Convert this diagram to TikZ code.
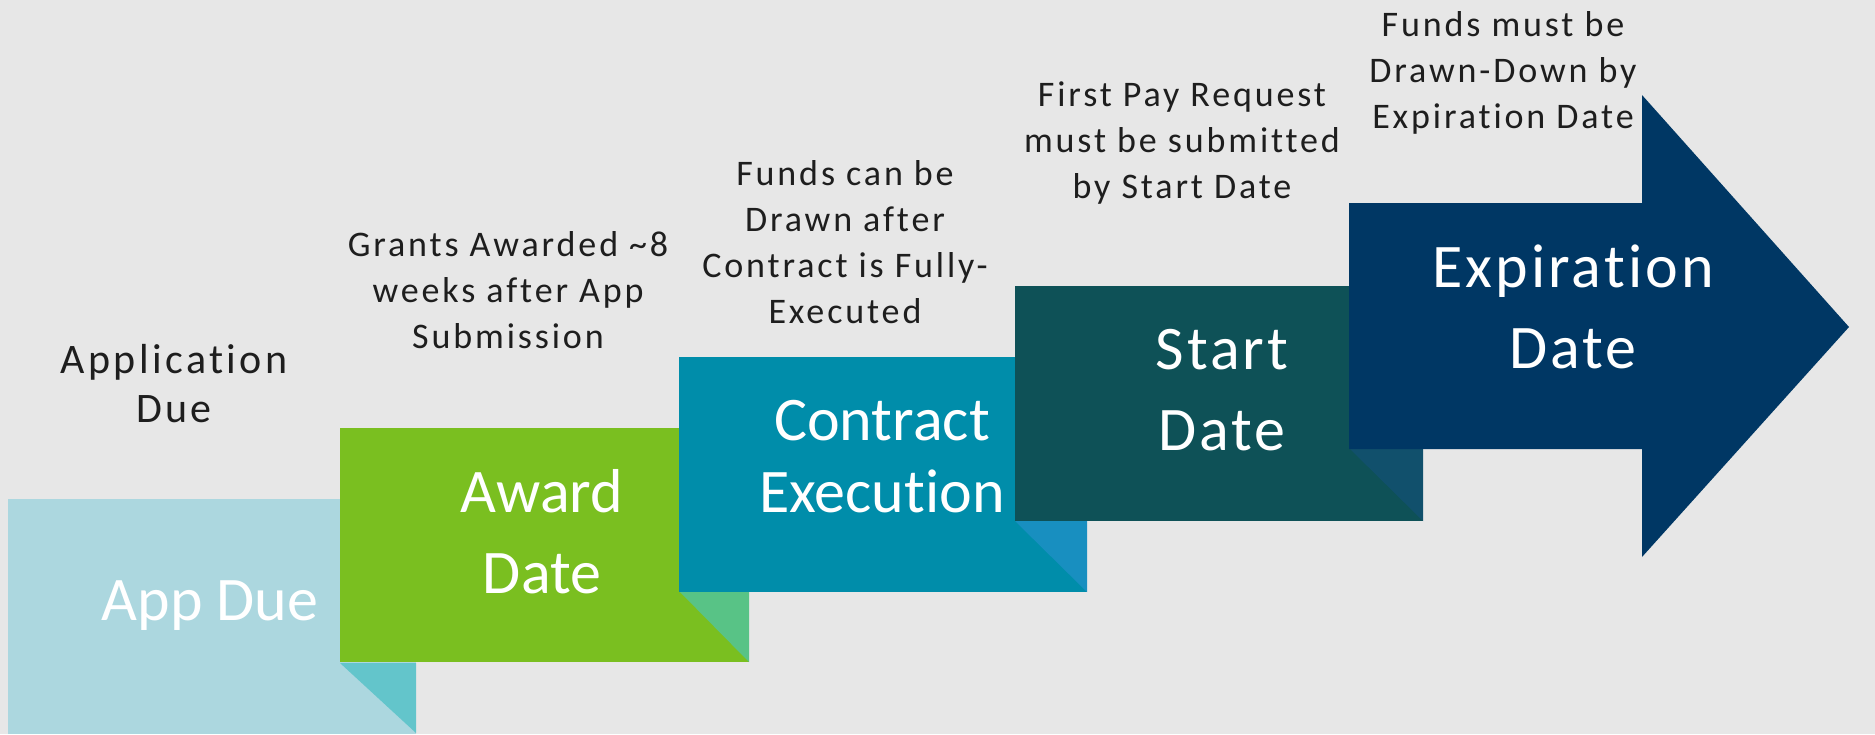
\documentclass[tikz,border=0pt]{standalone}
\usepackage{fontspec}
\setmainfont{Carlito}[Ligatures=NoCommon]
\newfontfamily\notef{Carlito}[LetterSpace=8,Ligatures=NoCommon]
\newfontfamily\bigf{Carlito}[Ligatures=NoCommon]
\newfontfamily\bigwidef{Carlito}[LetterSpace=5,Ligatures=NoCommon]
\definecolor{bg}{HTML}{E7E7E7}
\definecolor{boxA}{HTML}{ACD7DF}
\definecolor{foldA}{HTML}{63C5CB}
\definecolor{boxB}{HTML}{7ABF20}
\definecolor{foldB}{HTML}{58C386}
\definecolor{boxC}{HTML}{008DAA}
\definecolor{foldC}{HTML}{188FC0}
\definecolor{boxD}{HTML}{0E5157}
\definecolor{foldD}{HTML}{11506C}
\definecolor{arrowE}{HTML}{003764}
\definecolor{ink}{HTML}{1E1E1E}
\tikzset{
  note/.style={font=\notef\fontsize{18pt}{22.9pt}\selectfont, text=ink, align=center, anchor=base, inner sep=0pt},
  biglabel/.style={font=\bigf\fontsize{31pt}{40.5pt}\selectfont, text=white, align=center, anchor=base, inner sep=0pt},
  widelabel/.style={biglabel, font=\bigwidef\fontsize{31pt}{40.5pt}\selectfont}
}
\begin{document}
\begin{tikzpicture}[x=0.5pt,y=-0.5pt]
\fill[bg] (0,0) rectangle (1875,734);
\useasboundingbox (0,0) rectangle (1875,734);
% step 1
\fill[boxA] (8,499) rectangle (416,734);
\fill[foldA] (340,663) -- (416,663) -- (416,733) -- cycle;
% step 2
\fill[boxB] (340,428) rectangle (749,662);
\fill[foldB] (679,591) -- (749,591) -- (749,662) -- cycle;
% step 3
\fill[boxC] (679,357) rectangle (1087,592);
\fill[foldC] (1015,521) -- (1087,521) -- (1087,592) -- cycle;
% step 4
\fill[boxD] (1015,286) rectangle (1423,521);
\fill[foldD] (1350,449) -- (1423,449) -- (1423,521) -- cycle;
% arrow
\fill[arrowE] (1349,203) -- (1642,203) -- (1642,95) -- (1849,327) -- (1642,557) -- (1642,449) -- (1349,449) -- cycle;
% big labels (anchor = baseline of last line)
\node[biglabel] (appdue) at (210,620) {App Due};
\node[biglabel] (award) at (542,593) {Award\\Date};
\node[biglabel, font=\bigf\fontsize{31pt}{36pt}\selectfont] (contract) at (882,512) {Contract\\Execution};
\node[widelabel] (start) at (1222,450) {Start\\Date};
\node[widelabel] (expire) at (1573,368) {Expiration\\Date};
% notes
\node[note, font=\notef\fontsize{21pt}{24.5pt}\selectfont] (n1) at (174,422) {Application\\Due};
\node[note] (n2) at (508,348) {Grants Awarded \textasciitilde8\\weeks after App\\Submission};
\node[note] (n3) at (845,323) {Funds can be\\Drawn after\\Contract is Fully-\\Executed};
\node[note] (n4) at (1182,198) {First Pay Request\\must be submitted\\by Start Date};
\node[note] (n5) at (1503,128) {Funds must be\\Drawn-Down by\\Expiration Date};
\end{tikzpicture}
\end{document}
